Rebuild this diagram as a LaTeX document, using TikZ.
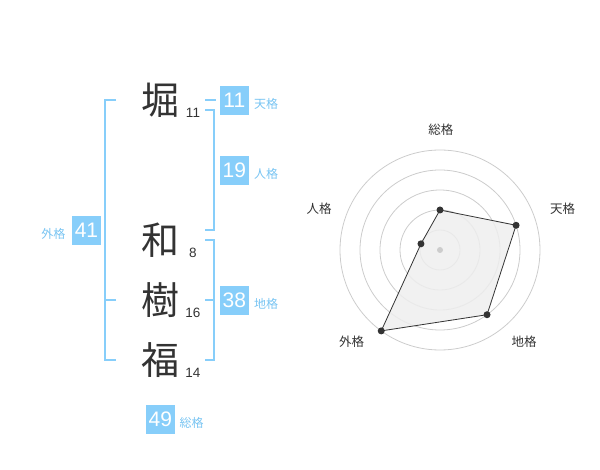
\documentclass[tikz,border=0pt]{standalone}
\usepackage{fontspec}
\setmainfont{Liberation Sans}
\newfontfamily\jpfont{Noto Sans CJK JP}
\definecolor{sky}{RGB}{135,206,250}
\definecolor{skytxt}{RGB}{120,196,242}
\definecolor{ink}{RGB}{51,51,51}
\definecolor{ringc}{RGB}{204,204,204}
\definecolor{areac}{RGB}{238,238,238}
\tikzset{
  kanji/.style={font=\jpfont\fontsize{38}{38}\selectfont, text=ink, inner sep=0pt},
  strokes/.style={font=\fontsize{13.5}{13.5}\selectfont, text=ink, inner sep=0pt},
  numbox/.style={fill=sky, text=white, font=\fontsize{21}{21}\selectfont, minimum width=28.7pt, minimum height=28.7pt, inner sep=0pt},
  kaku/.style={text=skytxt, font=\jpfont\fontsize{12}{12}\selectfont, inner sep=0pt},
  bracket/.style={draw=sky, line width=2pt},
  ring/.style={draw=ringc, line width=0.8pt},
  axislabel/.style={text=ink, font=\jpfont\fontsize{12.5}{12.5}\selectfont, inner sep=0pt},
  dot/.style={circle, fill=ink, inner sep=0pt, minimum size=7pt}
}
\begin{document}
\begin{tikzpicture}[x=1pt,y=-1pt]
\useasboundingbox (0,0) rectangle (600,470);
% kanji
\node[kanji] (k1) at (160,100.5) {堀};
\node[kanji] (k2) at (160,240.5) {和};
\node[kanji] (k3) at (160,300) {樹};
\node[kanji] (k4) at (160,360) {福};
\node[strokes] (s1) at (193,113) {11};
\node[strokes] (s2) at (193,253) {8};
\node[strokes] (s3) at (193,313) {16};
\node[strokes] (s4) at (193,373) {14};
% number boxes
\node[numbox] (ten) at (234.3,100.3) {11};
\node[numbox] (jin) at (234.3,170.3) {19};
\node[numbox] (chi) at (234.3,300.3) {38};
\node[numbox] (gai) at (86.5,230.3) {41};
\node[numbox] (sou) at (160.3,419.3) {49};
\node[kaku] (tenl) at (266,104) {天格};
\node[kaku] (jinl) at (266,174) {人格};
\node[kaku] (chil) at (266,304) {地格};
\node[kaku] (gail) at (53.3,234) {外格};
\node[kaku] (soul) at (191.5,423) {総格};
% brackets
\coordinate (ta) at (205,100);
\coordinate (tb) at (216,100);
\draw[bracket] (ta) -- (tb);
\coordinate (ja) at (205,110);
\coordinate (jb) at (205,230);
\draw[bracket] (ja) -- ++(9.3,0) |- (jb);
\coordinate (ca) at (205,240);
\coordinate (cb) at (205,360);
\coordinate (cm) at (205,300);
\draw[bracket] (ca) -- ++(9.3,0) |- (cb);
\draw[bracket] (cm) -- ++(9.3,0);
\coordinate (ga) at (116,100);
\coordinate (gb) at (116,360);
\coordinate (gm) at (116,300);
\draw[bracket] (ga) -- ++(-11,0) |- (gb);
\draw[bracket] (gm) -- ++(-11,0);
% radar
\begin{scope}[shift={(440,250)}]
  \coordinate (o) at (0,0);
  \foreach \r in {20,40,60,80,100} \draw[ring] (o) circle (\r pt);
  \coordinate (p1) at (90:40pt);
  \coordinate (p2) at (18:80pt);
  \coordinate (p3) at (-54:80pt);
  \coordinate (p4) at (-126:100pt);
  \coordinate (p5) at (162:20pt);
  \fill[areac, opacity=0.85] (p1) -- (p2) -- (p3) -- (p4) -- (p5) -- cycle;
  \draw[ink, line width=0.8pt] (p1) -- (p2) -- (p3) -- (p4) -- (p5) -- cycle;
  \foreach \p in {p1,p2,p3,p4,p5} \node[dot] at (\p) {};
  \node[circle, fill=ringc, inner sep=0pt, minimum size=6pt] (c0) at (o) {};
\end{scope}
\node[axislabel] (l1) at (440.8,130) {総格};
\node[axislabel] (l2) at (562.5,208.3) {天格};
\node[axislabel] (l3) at (524,341.7) {地格};
\node[axislabel] (l4) at (351.7,341.7) {外格};
\node[axislabel] (l5) at (319,209) {人格};
\end{tikzpicture}
\end{document}
